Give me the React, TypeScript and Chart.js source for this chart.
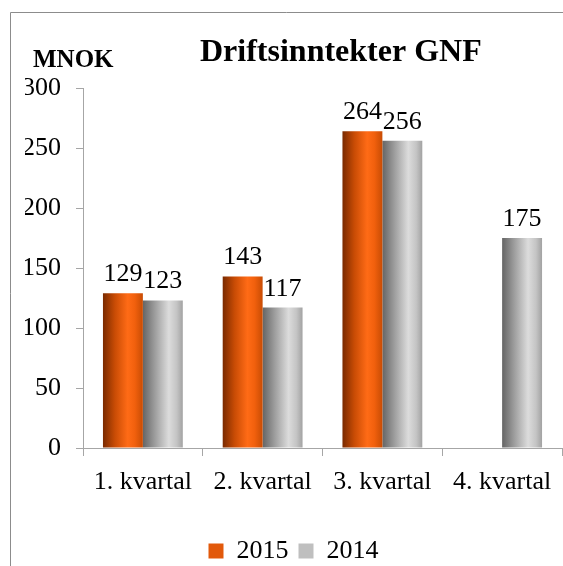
import { useEffect, useRef } from 'react';
import { Chart, registerables } from 'chart.js';

Chart.register(...registerables);

const categories = ['1. kvartal', '2. kvartal', '3. kvartal', '4. kvartal'];
const values2015: (number | null)[] = [129, 143, 264, null];
const values2014: (number | null)[] = [123, 117, 256, 175];
const seriesNames = ['2015', '2014'];
const yMin = 0;
const yMax = 300;
const yStep = 50;
const chartTitle = 'Driftsinntekter GNF';
const unitLabel = 'MNOK';

const SERIF = '"Liberation Serif", "Times New Roman", serif';
const CAT_PCT = 2 / 3;
const W = 563;
const H = 574;

const orangeStops: [number, string][] = [
  [0, '#7a2a00'],
  [0.3, '#c94c05'],
  [0.62, '#ff6b16'],
  [0.8, '#f1600d'],
  [1, '#c84c04'],
];
const grayStops: [number, string][] = [
  [0, '#656565'],
  [0.3, '#9d9d9d'],
  [0.65, '#dcdcdc'],
  [0.85, '#c4c4c4'],
  [1, '#a2a2a2'],
];
const legendColors = ['#e2590b', '#bfbfbf'];

function gradientFor(stops: [number, string][], fallback: string) {
  return (c: any) => {
    const chart = c.chart;
    const xs = chart.scales && chart.scales.x;
    if (!xs || !xs.width || c.type !== 'data') return fallback;
    const n = chart.data.datasets.length;
    const center = xs.getPixelForValue(c.dataIndex);
    const catW = xs.width / categories.length;
    const groupW = catW * CAT_PCT;
    const barW = groupW / n;
    const left = center - groupW / 2 + c.datasetIndex * barW;
    const g = chart.ctx.createLinearGradient(left, 0, left + barW, 0);
    stops.forEach(([o, col]) => g.addColorStop(o, col));
    return g;
  };
}

const decorPlugin = {
  id: 'decor',
  beforeDraw(chart: any) {
    const ctx = chart.ctx;
    ctx.save();
    ctx.strokeStyle = '#8c8c8c';
    ctx.lineWidth = 1;
    ctx.beginPath();
    ctx.moveTo(10.5, chart.height);
    ctx.lineTo(10.5, 12.5);
    ctx.lineTo(chart.width, 12.5);
    ctx.stroke();
    ctx.restore();
  },
  afterDraw(chart: any) {
    const ctx = chart.ctx;
    ctx.save();
    ctx.fillStyle = '#000';
    ctx.textBaseline = 'alphabetic';
    ctx.textAlign = 'left';
    ctx.font = `bold 32px ${SERIF}`;
    ctx.fillText(chartTitle, 200, 61);
    ctx.font = `bold 25px ${SERIF}`;
    ctx.fillText(unitLabel, 33, 67);
    ctx.restore();
  },
  afterDatasetsDraw(chart: any) {
    const ctx = chart.ctx;
    ctx.save();
    ctx.fillStyle = '#000';
    ctx.font = `26px ${SERIF}`;
    ctx.textAlign = 'center';
    ctx.textBaseline = 'alphabetic';
    chart.data.datasets.forEach((ds: any, i: number) => {
      const meta = chart.getDatasetMeta(i);
      meta.data.forEach((el: any, j: number) => {
        const v = ds.data[j];
        if (v === null || v === undefined) return;
        ctx.fillText(String(v), el.x, el.y - 12);
      });
    });
    ctx.restore();
  },
};

export default function App() {
  const ref = useRef<HTMLCanvasElement | null>(null);
  useEffect(() => {
    if (!ref.current) return;
    const chart = new Chart(ref.current, {
      type: 'bar',
      data: {
        labels: categories,
        datasets: [
          {
            label: seriesNames[0],
            data: values2015,
            backgroundColor: gradientFor(orangeStops, legendColors[0]),
            borderWidth: 0,
            categoryPercentage: CAT_PCT,
            barPercentage: 1,
          },
          {
            label: seriesNames[1],
            data: values2014,
            backgroundColor: gradientFor(grayStops, legendColors[1]),
            borderWidth: 0,
            categoryPercentage: CAT_PCT,
            barPercentage: 1,
          },
        ],
      },
      options: {
        responsive: false,
        animation: false,
        devicePixelRatio: 1,
        layout: { padding: { left: 25, right: 1, top: 88, bottom: 0 } },
        plugins: {
          title: { display: false },
          tooltip: { enabled: false },
          legend: {
            display: true,
            position: 'bottom',
            labels: {
              font: { family: SERIF, size: 26 },
              color: '#000',
              boxWidth: 15,
              boxHeight: 15,
              padding: 10,
              generateLabels: () =>
                seriesNames.map((name, i) => ({
                  text: name,
                  fillStyle: legendColors[i],
                  strokeStyle: legendColors[i],
                  lineWidth: 0,
                  hidden: false,
                  datasetIndex: i,
                })),
            },
          },
        },
        scales: {
          x: {
            grid: { drawOnChartArea: false, drawTicks: true, tickLength: 8, color: '#a6a6a6', offset: true },
            border: { color: '#a6a6a6' },
            ticks: { color: '#000', font: { family: SERIF, size: 26 }, padding: 11, maxRotation: 0 },
            afterFit: (s: any) => {
              s.height = 80;
            },
          },
          y: {
            min: yMin,
            max: yMax,
            grid: { drawOnChartArea: false, drawTicks: true, tickLength: 7, color: '#a6a6a6' },
            border: { color: '#a6a6a6' },
            ticks: { stepSize: yStep, color: '#000', font: { family: SERIF, size: 26 }, padding: 15 },
            afterFit: (s: any) => {
              s.width = 58;
            },
          },
        },
      },
      plugins: [decorPlugin],
    } as any);
    return () => chart.destroy();
  }, []);
  return (
    <div style={{ position: 'fixed', left: 0, top: 0, width: W, height: 566, overflow: 'hidden', background: '#fff' }}>
      <canvas ref={ref} width={W} height={H} style={{ display: 'block' }} />
    </div>
  );
}
